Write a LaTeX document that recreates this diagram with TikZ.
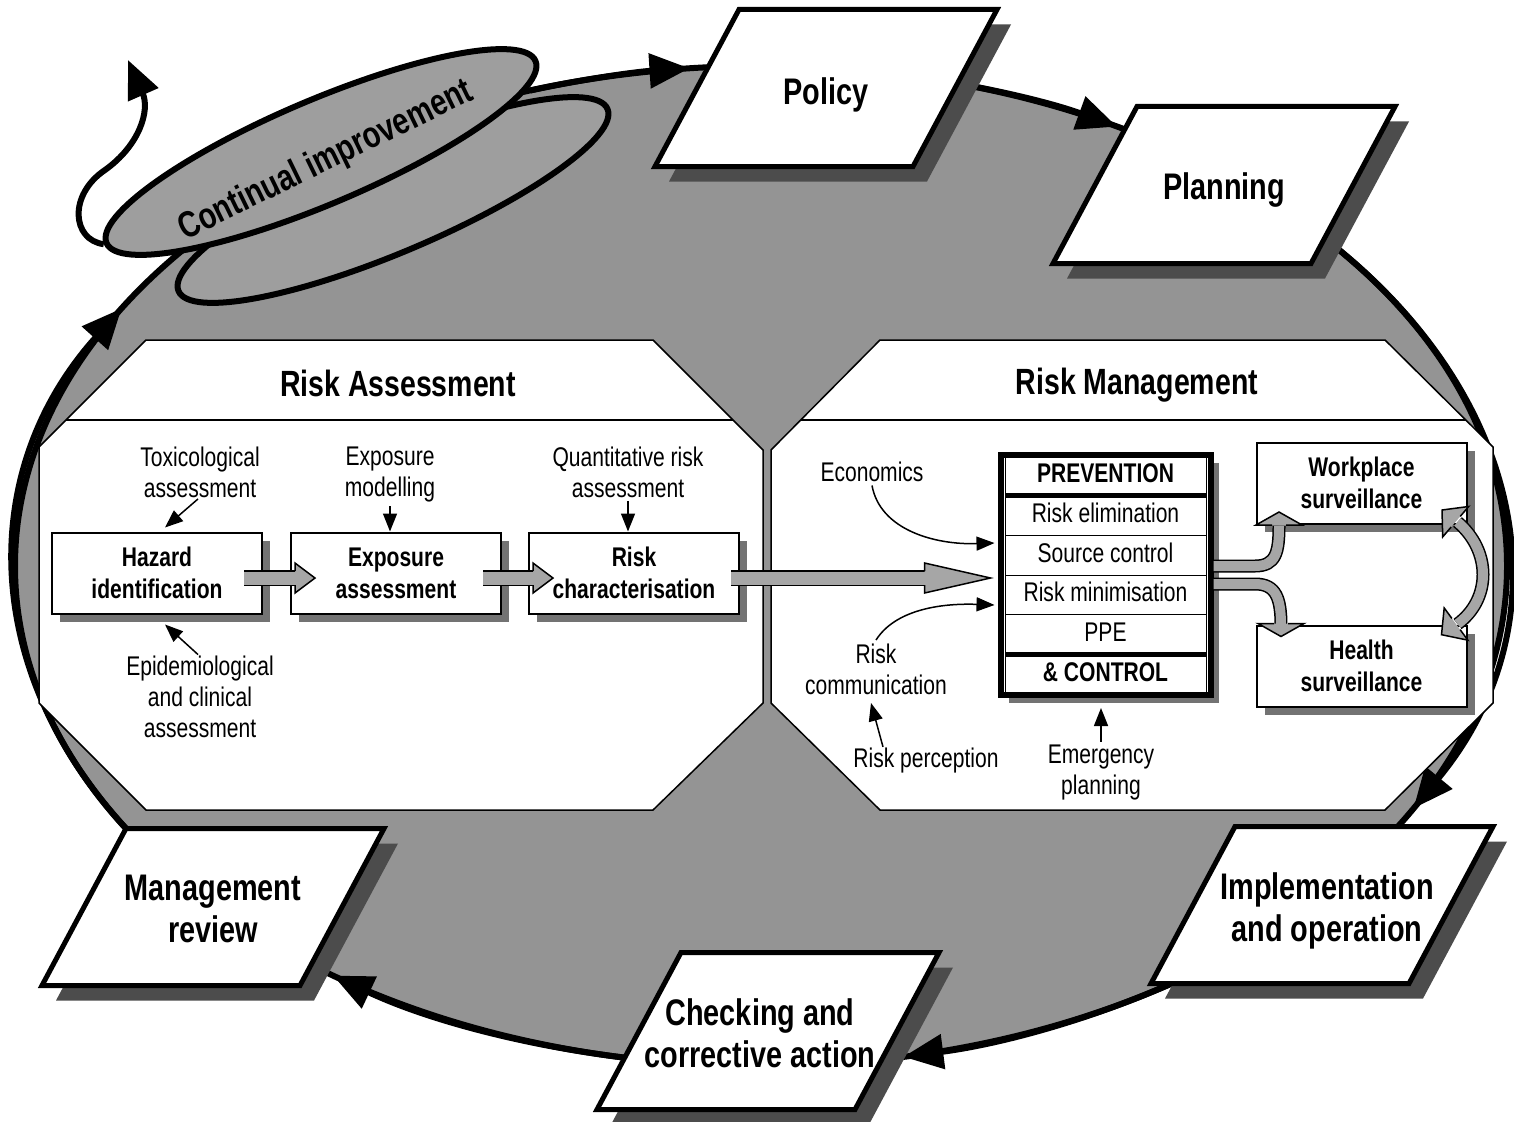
\documentclass[tikz,border=0pt]{standalone}
\usepackage{fontspec}
\setmainfont{Liberation Sans}[FakeStretch=0.78]
\usetikzlibrary{arrows.meta,shapes.geometric,shadows,positioning,calc}

\newcommand{\bigfont}{\fontsize{37pt}{42pt}\selectfont\bfseries}
\newcommand{\cifont}{\fontsize{37pt}{42pt}\selectfont\bfseries}
\newcommand{\titlefont}{\fontsize{36.5pt}{40pt}\selectfont\bfseries}
\newcommand{\boxfont}{\fontsize{27pt}{32pt}\selectfont\bfseries}
\newcommand{\notefont}{\fontsize{27pt}{31pt}\selectfont}
\newcommand{\ghead}[4]{%
  \begin{scope}[shift={#1}, rotate=#2]
    \fill[black!35] (0,0) -- (-#3,#4) -- (-#3,-#4) -- cycle;
    \draw[line width=1.5pt, line join=miter] (-#3,7) -- (-#3,#4) -- (0,0) -- (-#3,-#4) -- (-#3,-7);
  \end{scope}}
\newcommand{\cycbox}[5]{%
  \begin{scope}[shift={(#2,#3)}]
    \fill[black!70] (-73,-63.5) -- (185,-63.5) -- (101,93.5) -- (-157,93.5) -- cycle;
    \filldraw[fill=white, line width=5pt, line join=miter] (-87,-78.5) -- (171,-78.5) -- (87,78.5) -- (-171,78.5) -- cycle;
  \end{scope}
  \node[cyclabel] (#1) at ($(#2,#3)+(#5)$) {#4};}

\begin{document}
\begin{tikzpicture}[x=1pt, y=-1pt]
  \tikzstyle{cyclabel} = [align=center, font=\bigfont]
  \tikzstyle{loopflow} = [line width=6pt, x radius=746pt, y radius=500pt, -{Triangle[length=40pt, width=34pt]}]
  \tikzstyle{ciring} = [ellipse, draw, line width=6pt, fill=black!38, minimum width=466pt, minimum height=104pt, rotate=23]
  \tikzstyle{panel} = [draw, line width=1.5pt, fill=white]
  \tikzstyle{stepbox} = [draw, line width=2pt, fill=white, minimum width=210pt, minimum height=81pt, align=center, font=\boxfont, drop shadow={shadow xshift=8pt, shadow yshift=-8pt, opacity=1, fill=black!55}]
  \tikzstyle{rowbox} = [draw, line width=1pt, minimum width=201pt, minimum height=39.7pt, outer sep=0pt, inner sep=0pt, text height=20pt, text depth=6pt, font=\notefont]
  \tikzstyle{note} = [align=center, font=\notefont]
  \tikzstyle{noteArrow} = [line width=1.5pt, -{Triangle[length=18pt, width=14pt]}]
  \tikzstyle{gshaft} = [line width=13pt, draw=black!35, preaction={draw=black, line width=16pt}]
  \tikzstyle{gshaftThin} = [line width=10pt, draw=black!35, preaction={draw=black, line width=13pt}]

  \path[use as bounding box, fill=white] (0,0) rectangle (1514,1121);

  \draw[line width=6pt, fill=black!42] (761,566) ellipse [x radius=746pt, y radius=500pt];

  \coordinate (ci-out) at ({761+746*cos(108)},{566-500*sin(108)});
  \coordinate (pol-out) at ({761+746*cos(80)},{566-500*sin(80)});
  \coordinate (pla-out) at ({761+746*cos(45)},{566-500*sin(45)});
  \coordinate (imp-out) at ({761+746*cos(-55)},{566-500*sin(-55)});
  \coordinate (chk-out) at ({761+746*cos(-96)},{566-500*sin(-96)});
  \coordinate (rev-out) at ({761+746*cos(213)},{566-500*sin(213)});
  \draw[loopflow] (ci-out) arc[start angle=108, end angle=95.5];
  \draw[loopflow] (pol-out) arc[start angle=80, end angle=61.5];
  \draw[loopflow] (pla-out) arc[start angle=45, end angle=-29];
  \draw[loopflow] (imp-out) arc[start angle=-55, end angle=-79];
  \draw[loopflow] (chk-out) arc[start angle=-96, end angle=-125];
  \draw[loopflow] (rev-out) arc[start angle=213, end angle=149];

  \node[ciring] (ciback) at (393,200) {};
  \node[ciring] (ci) at (321,152) {};
  \node[font=\cifont, rotate=26] (citext) at (326,161) {Continual improvement};
  \draw[line width=6pt, -{Triangle[length=38pt, width=32pt]}] (ci.west) .. controls (72,240) and (68,195) .. (105,170) .. controls (140,145) and (150,110) .. (128,60);

  \draw[panel] (146,340) -- (653,340) -- (763,450) -- (763,703) -- (653,810) -- (146,810) -- (39,703) -- (39,447) -- cycle;
  \draw[panel] (880,340) -- (1385,340) -- (1493,447) -- (1493,703) -- (1385,810) -- (880,810) -- (771,703) -- (771,450) -- cycle;
  \draw[line width=1.5pt] (66,420) -- (733,420);
  \draw[line width=1.5pt] (801,420) -- (1466,420);
  \node[font=\titlefont] (ra) at (398,383) {Risk Assessment};
  \node[font=\titlefont] (rm) at (1137,385) {Risk Management};

  \node[stepbox] (haz) at (157,573) {Hazard\\identification};
  \node[stepbox] (expo) at (396,573) {Exposure\\assessment};
  \node[stepbox] (rchar) at (634,573) {Risk\\characterisation};

  \node[note] (tox) at (200,472) {Toxicological\\assessment};
  \node[note] (expmod) at (390,475) {Exposure\\modelling};
  \node[note] (qra) at (628,472) {Quantitative risk\\assessment};
  \node[note] (epi) at (200,697) {Epidemiological\\and clinical\\assessment};
  \draw[noteArrow] ($(tox.south)+(-2,-2)$) -- ($(haz.north)+(8,-4)$);
  \draw[noteArrow] (expmod.south) -- (expmod.south |- expo.north);
  \draw[noteArrow] (qra.south) -- (qra.south |- rchar.north);
  \draw[noteArrow] ($(epi.north)+(-2,2)$) -- ($(haz.south)+(8,10)$);

  \node[draw, line width=6pt, fill=white, minimum width=210pt, minimum height=240pt, drop shadow={shadow xshift=8pt, shadow yshift=-8pt, opacity=1, fill=black!55}] (prev) at (1105.5,575) {};
  \node[rowbox, font=\boxfont] (r1) at (1105.5,475.75) {PREVENTION};
  \node[rowbox, below=0pt of r1] (r2) {Risk elimination};
  \node[rowbox, below=0pt of r2] (r3) {Source control};
  \node[rowbox, below=0pt of r3] (r4) {Risk minimisation};
  \node[rowbox, below=0pt of r4] (r5) {PPE};
  \node[rowbox, below=0pt of r5, font=\boxfont] (r6) {\& CONTROL};
  \draw[line width=5pt] (r1.south west) -- (r1.south east);
  \draw[line width=5pt] (r6.north west) -- (r6.north east);

  \node[stepbox] (wp) at (1361.5,483) {Workplace\\surveillance};
  \node[stepbox] (hs) at (1361.5,666) {Health\\surveillance};

  \node[note] (econ) at (872,472) {Economics};
  \node[note] (rcom) at (876,669) {Risk\\communication};
  \node[note] (rper) at (926,761) {Risk perception};
  \node[note] (emer) at (1101,773) {Emergency\\planning};
  \draw[noteArrow] (econ.south) .. controls (880,530) and (935,545) .. ($(prev.west)+(-3,-32)$);
  \draw[noteArrow] (rcom.north) .. controls (895,610) and (940,603) .. ($(prev.west)+(-3,30)$);
  \draw[noteArrow] ($(rper.north)+(-43,2)$) -- ($(rcom.south)+(-5,5)$);
  \draw[noteArrow, shorten >=10pt] (emer.north) -- (emer.north |- prev.south);

  \draw[gshaft] ($(haz.east)+(-19,5)$) -- ($(expo.west)+(6,5)$);
  \ghead{($(expo.west)+(25,5)$)}{0}{20}{15}
  \draw[gshaft] ($(expo.east)+(-19,5)$) -- ($(rchar.west)+(6,5)$);
  \ghead{($(rchar.west)+(25,5)$)}{0}{20}{15}
  \draw[gshaft] ($(rchar.east)+(-9,5)$) -- ($(prev.west)+(-71,3)$);
  \ghead{($(prev.west)+(-7,3)$)}{0}{66}{15}

  \draw[gshaftThin] ($(prev.east)+(0,-9)$) -- (1255,566) .. controls (1276,566) and (1279,552) .. (1279,526);
  \ghead{($(wp.south)+(-82.5,-12.5)$)}{90}{13}{23}
  \draw[gshaftThin] ($(prev.east)+(0,9)$) -- (1255,584) .. controls (1276,584) and (1281,598) .. (1281,626);
  \ghead{($(hs.north)+(-80.5,12)$)}{-90}{13}{23}
  \draw[gshaftThin] ($(wp.east)+(-10,39)$) .. controls +(34,29) and +(34,-25) .. ($(hs.east)+(-10,-42)$);
  \ghead{(1442,510)}{139.5}{18}{20}
  \ghead{(1441.5,634.7)}{216.3}{18}{20}

  \cycbox{policy}{826}{88}{Policy}{0,7}
  \cycbox{planning}{1224}{185}{Planning}{0,5}
  \cycbox{implement}{1322}{905}{Implementation\\and operation}{5,6}
  \cycbox{checking}{768}{1031}{Checking and\\corrective action}{-8,2}
  \cycbox{review}{213}{907}{Management\\review}{0,2}
\end{tikzpicture}
\end{document}
